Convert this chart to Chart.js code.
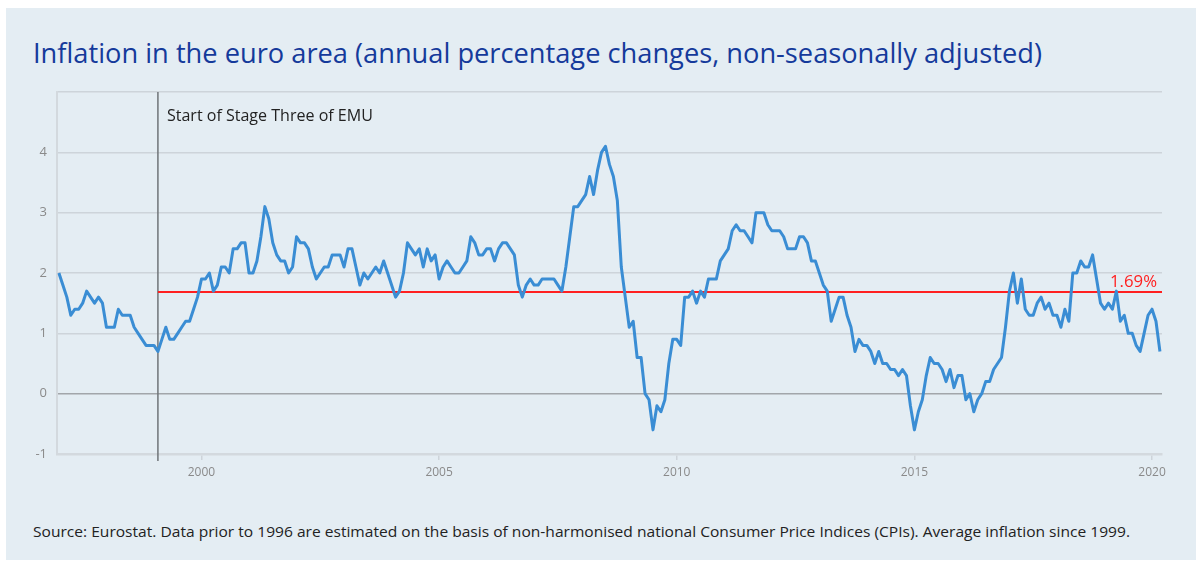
<!DOCTYPE html>
<html>
<head>
<meta charset="utf-8">
<script src="https://cdn.jsdelivr.net/npm/chart.js@4.4.1/dist/chart.umd.min.js"></script>
<style>
  body { margin: 0; width: 1203px; height: 564px; overflow: hidden; position: relative; background: #fff; font-family: "Open Sans", "Noto Sans", sans-serif; }
  #panel { position: absolute; left: 6px; top: 8px; width: 1190px; height: 552px; background: #e4edf3; }
  .txt { position: absolute; white-space: nowrap; transform-origin: left top; line-height: 1; }
  #title { left: 33px; top: 38px; font-size: 28px; color: #153a9b; }
  #source { left: 33px; top: 524px; font-size: 15px; color: #222; }
  #chart { position: absolute; left: 0; top: 0; }
</style>
</head>
<body>
<div id="panel"></div>
<div id="title" class="txt">Inflation in the euro area (annual percentage changes, non-seasonally adjusted)</div>
<div id="source" class="txt">Source: Eurostat. Data prior to 1996 are estimated on the basis of non-harmonised national Consumer Price Indices (CPIs). Average inflation since 1999.</div>
<canvas id="chart" width="1203" height="564"></canvas>
<script>
// monthly HICP annual rates, Jan 1997 - Mar 2020
const firstYear = 1997
const hicp1997 = [2.0, 1.8, 1.6, 1.3, 1.4, 1.4, 1.5, 1.7, 1.6, 1.5, 1.6, 1.5]
const hicp1998 = [1.1, 1.1, 1.1, 1.4, 1.3, 1.3, 1.3, 1.1, 1.0, 0.9, 0.8, 0.8]
const hicp1999 = [0.8, 0.7, 0.9, 1.1, 0.9, 0.9, 1.0, 1.1, 1.2, 1.2, 1.4, 1.6]
const hicp2000 = [1.9, 1.9, 2.0, 1.7, 1.8, 2.1, 2.1, 2.0, 2.4, 2.4, 2.5, 2.5]
const hicp2001 = [2.0, 2.0, 2.2, 2.6, 3.1, 2.9, 2.5, 2.3, 2.2, 2.2, 2.0, 2.1]
const hicp2002 = [2.6, 2.5, 2.5, 2.4, 2.1, 1.9, 2.0, 2.1, 2.1, 2.3, 2.3, 2.3]
const hicp2003 = [2.1, 2.4, 2.4, 2.1, 1.8, 2.0, 1.9, 2.0, 2.1, 2.0, 2.2, 2.0]
const hicp2004 = [1.8, 1.6, 1.7, 2.0, 2.5, 2.4, 2.3, 2.4, 2.1, 2.4, 2.2, 2.3]
const hicp2005 = [1.9, 2.1, 2.2, 2.1, 2.0, 2.0, 2.1, 2.2, 2.6, 2.5, 2.3, 2.3]
const hicp2006 = [2.4, 2.4, 2.2, 2.4, 2.5, 2.5, 2.4, 2.3, 1.8, 1.6, 1.8, 1.9]
const hicp2007 = [1.8, 1.8, 1.9, 1.9, 1.9, 1.9, 1.8, 1.7, 2.1, 2.6, 3.1, 3.1]
const hicp2008 = [3.2, 3.3, 3.6, 3.3, 3.7, 4.0, 4.1, 3.8, 3.6, 3.2, 2.1, 1.6]
const hicp2009 = [1.1, 1.2, 0.6, 0.6, 0.0, -0.1, -0.6, -0.2, -0.3, -0.1, 0.5, 0.9]
const hicp2010 = [0.9, 0.8, 1.6, 1.6, 1.7, 1.5, 1.7, 1.6, 1.9, 1.9, 1.9, 2.2]
const hicp2011 = [2.3, 2.4, 2.7, 2.8, 2.7, 2.7, 2.6, 2.5, 3.0, 3.0, 3.0, 2.8]
const hicp2012 = [2.7, 2.7, 2.7, 2.6, 2.4, 2.4, 2.4, 2.6, 2.6, 2.5, 2.2, 2.2]
const hicp2013 = [2.0, 1.8, 1.7, 1.2, 1.4, 1.6, 1.6, 1.3, 1.1, 0.7, 0.9, 0.8]
const hicp2014 = [0.8, 0.7, 0.5, 0.7, 0.5, 0.5, 0.4, 0.4, 0.3, 0.4, 0.3, -0.2]
const hicp2015 = [-0.6, -0.3, -0.1, 0.3, 0.6, 0.5, 0.5, 0.4, 0.2, 0.4, 0.1, 0.3]
const hicp2016 = [0.3, -0.1, 0.0, -0.3, -0.1, 0.0, 0.2, 0.2, 0.4, 0.5, 0.6, 1.1]
const hicp2017 = [1.7, 2.0, 1.5, 1.9, 1.4, 1.3, 1.3, 1.5, 1.6, 1.4, 1.5, 1.3]
const hicp2018 = [1.3, 1.1, 1.4, 1.2, 2.0, 2.0, 2.2, 2.1, 2.1, 2.3, 1.9, 1.5]
const hicp2019 = [1.4, 1.5, 1.4, 1.7, 1.2, 1.3, 1.0, 1.0, 0.8, 0.7, 1.0, 1.3]
const hicp2020 = [1.4, 1.2, 0.7]

const yearTicks = [2000, 2005, 2010, 2015, 2020]
const valueTicks = [-1, 0, 1, 2, 3, 4]

const emuStart = 1999 + 1 / 12
const emuLabel = 'Start of Stage Three of EMU'
const averageSince1999 = 1.69
const averageLabel = '1.69%'

const hicp = [].concat(hicp1997, hicp1998, hicp1999, hicp2000, hicp2001, hicp2002,
  hicp2003, hicp2004, hicp2005, hicp2006, hicp2007, hicp2008, hicp2009, hicp2010,
  hicp2011, hicp2012, hicp2013, hicp2014, hicp2015, hicp2016, hicp2017, hicp2018,
  hicp2019, hicp2020)
const points = hicp.map((v, i) => ({ x: firstYear + i / 12, y: v }))

const fontFamily = '"Open Sans", "Noto Sans", sans-serif'

// sets a canvas font whose text comes out at the wanted width
function fitFont(ctx, text, width) {
  ctx.font = '20px ' + fontFamily
  const size = 20 * width / ctx.measureText(text).width
  ctx.font = size.toFixed(2) + 'px ' + fontFamily
}

// reference lines and their labels, drawn under the series
const markers = {
  id: 'markers',
  beforeDatasetsDraw(chart) {
    const { ctx, chartArea, scales } = chart
    const xe = scales.x.getPixelForValue(emuStart)
    const ya = Math.round(scales.y.getPixelForValue(averageSince1999))
    ctx.save()
    ctx.strokeStyle = '#6f7478'
    ctx.lineWidth = 1.5
    ctx.beginPath()
    ctx.moveTo(xe, chartArea.top)
    ctx.lineTo(xe, chartArea.bottom + 7)
    ctx.stroke()
    ctx.strokeStyle = '#ff2020'
    ctx.lineWidth = 2
    ctx.beginPath()
    ctx.moveTo(xe, ya)
    ctx.lineTo(chartArea.right, ya)
    ctx.stroke()
    ctx.textBaseline = 'middle'
    fitFont(ctx, emuLabel, 206)
    ctx.fillStyle = '#222'
    ctx.textAlign = 'left'
    ctx.fillText(emuLabel, xe + 9, chartArea.top + 24)
    fitFont(ctx, averageLabel, 47)
    ctx.fillStyle = '#ff2020'
    ctx.textAlign = 'right'
    ctx.fillText(averageLabel, chartArea.right - 5, ya - 10)
    ctx.restore()
  }
}

function fitWidth(id, target) {
  const el = document.getElementById(id)
  const w = el.getBoundingClientRect().width
  el.style.transform = 'scaleX(' + (target / w) + ')'
}

fitWidth('title', 1009)
fitWidth('source', 1097)

new Chart(document.getElementById('chart'), {
  type: 'line',
  data: {
    datasets: [{
      data: points,
      borderColor: '#3a8dd4',
      borderWidth: 3,
      borderJoinStyle: 'round',
      pointRadius: 0,
      tension: 0,
      fill: false
    }]
  },
  options: {
    responsive: false,
    animation: false,
    devicePixelRatio: 1,
    layout: { padding: { left: 0, right: 41, top: 92, bottom: 80 } },
    plugins: { legend: { display: false }, tooltip: { enabled: false } },
    scales: {
      x: {
        type: 'linear',
        min: 1996.96,
        max: 2020.21,
        afterFit(scale) { scale.height = 30 },
        afterBuildTicks(scale) { scale.ticks = yearTicks.map(v => ({ value: v })) },
        grid: { drawOnChartArea: false, drawTicks: true, tickLength: 6, color: '#cdd4da', lineWidth: 1.5 },
        border: { display: true, color: '#d3d9de', width: 2.5 },
        ticks: { color: '#8a8a8a', font: { size: 12, family: fontFamily }, padding: 5, maxRotation: 0, callback: v => String(v) }
      },
      y: {
        min: -1,
        max: 5,
        afterFit(scale) { scale.width = 57 },
        afterBuildTicks(scale) { scale.ticks = valueTicks.concat([5]).map(v => ({ value: v })) },
        grid: {
          drawTicks: false,
          lineWidth: 1.5,
          color: c => (c.tick && c.tick.value === 0 ? '#a2a6aa' : '#cdd4da')
        },
        border: { display: true, color: '#d3d9de', width: 2 },
        ticks: {
          color: '#8a8a8a',
          font: { size: 13, family: fontFamily },
          padding: 10,
          callback: v => (valueTicks.includes(v) ? String(v) : '')
        }
      }
    }
  },
  plugins: [markers]
})
</script>
</body>
</html>
